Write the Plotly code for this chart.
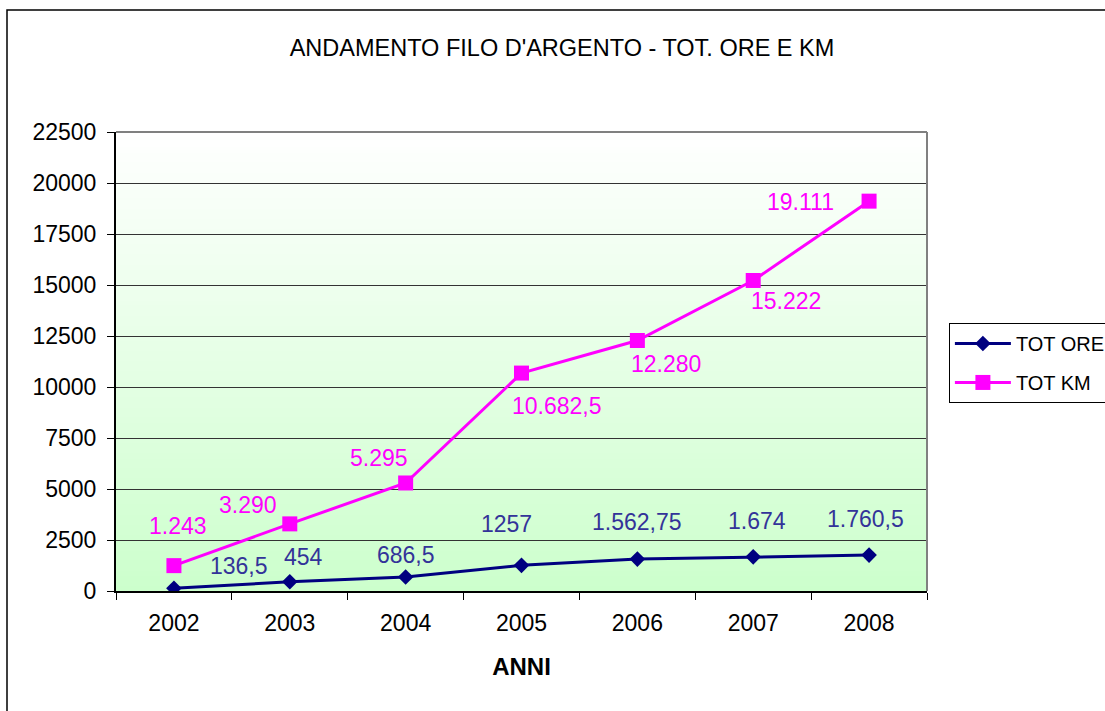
import plotly.graph_objects as go

# data
years = ["2002", "2003", "2004", "2005", "2006", "2007", "2008"]
tot_ore = [136.5, 454, 686.5, 1257, 1562.75, 1674, 1760.5]
tot_km = [1243, 3290, 5295, 10682.5, 12280, 15222, 19111]
ore_labels = ["136,5", "454", "686,5", "1257", "1.562,75", "1.674", "1.760,5"]
km_labels = ["1.243", "3.290", "5.295", "10.682,5", "12.280", "15.222", "19.111"]
y_ticks = [0, 2500, 5000, 7500, 10000, 12500, 15000, 17500, 20000, 22500]

FONT = "Liberation Sans, Arial, sans-serif"
ORE_COLOR = "#000080"
KM_COLOR = "#FF00FF"

# label offsets (pixels) like the hand-placed excel labels
ore_shift = [(65, 22), (14, 25), (0, 22), (-15, 41), (0, 37), (4, 36), (-4, 36)]
km_shift = [(4, 40), (-42, 19), (-27, 25), (35, -33), (29, -24), (33, -21), (-69, -1)]

fig = go.Figure()

fig.add_trace(go.Scatter(
    x=years, y=tot_ore, name="TOT ORE", mode="lines+markers",
    line=dict(color=ORE_COLOR, width=3),
    marker=dict(symbol="diamond", size=12, color=ORE_COLOR),
    legendgroup="ore",
))
fig.add_trace(go.Scatter(
    x=years, y=tot_km, name="TOT KM", mode="lines+markers",
    line=dict(color=KM_COLOR, width=3),
    marker=dict(symbol="square", size=15, color=KM_COLOR),
    legendgroup="km",
))

annotations = []
for vals, labels, shifts, col in [(tot_ore, ore_labels, ore_shift, "#333399"),
                                  (tot_km, km_labels, km_shift, KM_COLOR)]:
    for i, (v, t, (dx, dy)) in enumerate(zip(vals, labels, shifts)):
        annotations.append(dict(x=i, y=v, xref="x", yref="y", text=t,
                                showarrow=False, xshift=dx, yshift=dy,
                                xanchor="center", yanchor="middle",
                                font=dict(family=FONT, size=23, color=col)))

# gradient background of the plot area (white -> light green)
shapes = []
n = 90
for i in range(n):
    f = (i + 0.5) / n  # 0 at bottom, 1 at top
    r = int(round(204 + (255 - 204) * f))
    col = f"rgb({r},255,{r})"
    shapes.append(dict(type="rect", xref="paper", yref="paper",
                       x0=0, x1=1, y0=i / n, y1=(i + 1) / n + 0.002,
                       fillcolor=col, line=dict(width=0), layer="below"))
# grey top and right border of the plot area
shapes.append(dict(type="line", xref="paper", yref="paper", x0=0, x1=1, y0=1, y1=1,
                   line=dict(color="#808080", width=2)))
shapes.append(dict(type="line", xref="paper", yref="paper", x0=1, x1=1, y0=0, y1=1,
                   line=dict(color="#808080", width=2)))
# outer chart frame
shapes.append(dict(type="rect", xref="paper", yref="paper",
                   x0=-0.1344, x1=1.4, y0=-0.5, y1=1.2658,
                   line=dict(color="black", width=1.5), layer="below"))

fig.update_layout(
    width=1105, height=711,
    margin=dict(l=116, r=178, t=132, b=120, autoexpand=False),
    paper_bgcolor="white",
    plot_bgcolor="rgba(0,0,0,0)",
    font=dict(family=FONT, size=23, color="black"),
    title=dict(text="ANDAMENTO FILO D'ARGENTO - TOT. ORE E KM",
               x=0.5086, xref="container", xanchor="center",
               y=0.9325, yref="container", yanchor="middle",
               font=dict(family=FONT, size=23.5, color="black")),
    shapes=shapes,
    annotations=annotations,
    showlegend=True,
    legend=dict(x=1.027, xanchor="left", y=0.584, yanchor="top",
                bordercolor="black", borderwidth=1, bgcolor="white",
                font=dict(family=FONT, size=20, color="black"),
                traceorder="grouped", tracegroupgap=10,
                itemwidth=56, entrywidth=120),
    xaxis=dict(type="category", range=[-0.5, 6.5],
               showline=True, linecolor="black", linewidth=2,
               ticks="outside", tickson="boundaries", ticklen=7,
               tickcolor="black", showgrid=False,
               tickfont=dict(size=23), ticklabelstandoff=10,
               title=dict(text="<b>ANNI</b>", font=dict(size=24), standoff=24)),
    yaxis=dict(range=[0, 22500], tickvals=y_ticks, tickformat="d",
               showline=True, linecolor="black", linewidth=2,
               ticks="outside", ticklen=7, tickcolor="black",
               showgrid=True, gridcolor="#333333", gridwidth=1,
               zeroline=False, tickfont=dict(size=23), ticklabelstandoff=6),
)

fig.write_html("out.html", config={"displayModeBar": False},
               post_script="document.body.style.margin='0';")
